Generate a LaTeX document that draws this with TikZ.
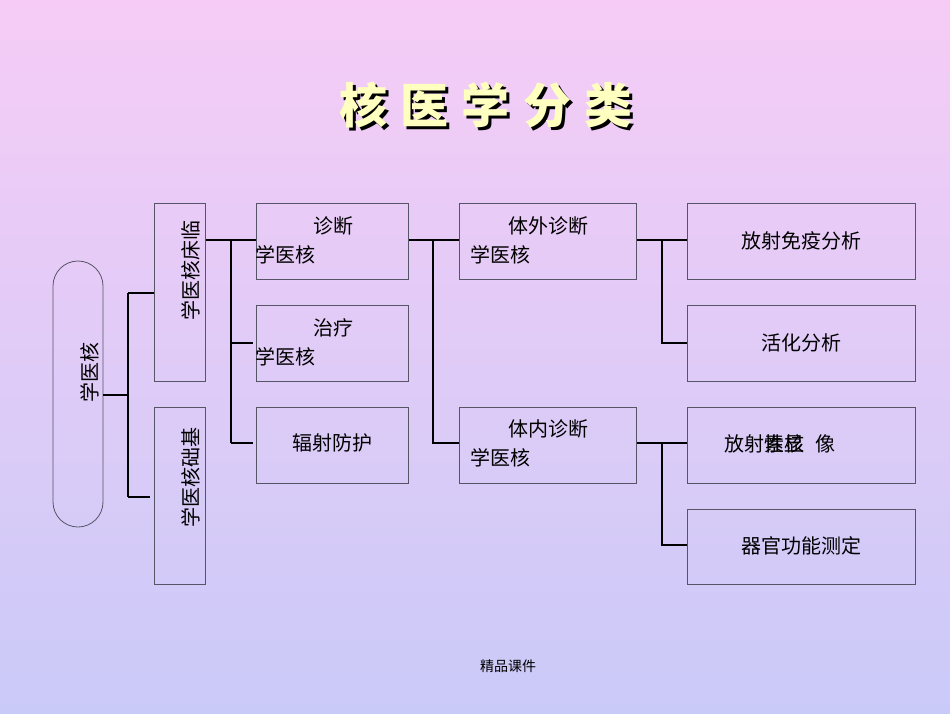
\documentclass[tikz,border=0pt]{standalone}
\usepackage{fontspec}
\setmainfont{Noto Sans CJK SC}
\newfontfamily\cjk{Noto Sans CJK SC}
\definecolor{bgtop}{HTML}{F6CCF6}
\definecolor{bgbot}{HTML}{CACAF8}
\definecolor{ttl}{HTML}{FFFFC0}
\definecolor{edge}{HTML}{555566}
\begin{document}
\begin{tikzpicture}[x=1pt,y=-1pt,
  bx/.style={draw=edge,line width=0.8pt,inner sep=0,anchor=north west},
  lbl/.style={font=\fontsize{20}{20}\selectfont,inner sep=0},
  conn/.style={line width=1.8pt,black}]
\shade[top color=bgtop,bottom color=bgbot] (0,0) rectangle (950,713);
\useasboundingbox (0,0) rectangle (950,713);
% title
\node[lbl,font=\fontsize{48}{48}\selectfont\bfseries,black] at (489,108) {核\;医\;学\;分\;类};
\node[lbl,font=\fontsize{48}{48}\selectfont\bfseries,ttl] (title) at (486,105) {核\;医\;学\;分\;类};
% boxes
\node[draw=edge,line width=0.8pt,rounded corners=25pt,minimum width=50pt,minimum height=266pt,inner sep=0] (root) at (78,394) {};
\node[lbl,rotate=90] at (90,372) {学医核};
\node[bx,minimum width=51pt,minimum height=178pt] (lc) at (154,203) {};
\node[lbl,rotate=90,anchor=south] at (200,270) {学医核床临};
\node[bx,minimum width=51pt,minimum height=177pt] (jc) at (154,407) {};
\node[lbl,rotate=90,anchor=south] at (200,477) {学医核础基};
\node[bx,minimum width=152pt,minimum height=76pt] (zd) at (256,203) {};
\node[lbl] at (333,226) {诊断};
\node[lbl] at (285,255) {学医核};
\node[bx,minimum width=152pt,minimum height=76pt] (zl) at (256,305) {};
\node[lbl] at (333,328) {治疗};
\node[lbl] at (285,357) {学医核};
\node[bx,minimum width=152pt,minimum height=76pt] (fs) at (256,407) {};
\node[lbl] at (332,443) {辐射防护};
\node[bx,minimum width=177pt,minimum height=76pt] (tw) at (459,203) {};
\node[lbl] at (548,226) {体外诊断};
\node[lbl] at (500,255) {学医核};
\node[bx,minimum width=177pt,minimum height=76pt] (tn) at (459,407) {};
\node[lbl] at (548,429) {体内诊断};
\node[lbl] at (500,458) {学医核};
\node[bx,minimum width=228pt,minimum height=76pt] (r1) at (687,203) {};
\node[lbl] at (801,241) {放射免疫分析};
\node[bx,minimum width=228pt,minimum height=76pt] (r2) at (687,305) {};
\node[lbl] at (801,343) {活化分析};
\node[bx,minimum width=228pt,minimum height=76pt] (r3) at (687,407) {};
\node[lbl] at (744,444) {放射};
\node[lbl] at (784,444) {性核};
\node[lbl] at (784,444) {素显};
\node[lbl] at (825,444) {像};
\node[bx,minimum width=228pt,minimum height=75pt] (r4) at (687,509) {};
\node[lbl] at (801,546) {器官功能测定};
\node[lbl,font=\fontsize{14}{14}\selectfont] (ft) at (508,666) {精品课件};
% connectors
\coordinate (a1) at (128,395);
\draw[conn] (root.east |- a1) -- (a1) (128,293) -- (128,497);
\draw[conn] (128,293) -- (lc.west |- 0,293);
\draw[conn] (128,497) -- (150,497);
\draw[conn] (lc.east |- 0,240) -- (zd.west |- 0,240);
\draw[conn] (231,240) -- (231,443);
\draw[conn] (231,343) -- (253,343);
\draw[conn] (231,443) -- (253,443);
\draw[conn] (zd.east |- 0,240) -- (tw.west |- 0,240);
\draw[conn] (433,240) -- (433,443) -- (tn.west |- 0,443);
\draw[conn] (tw.east |- 0,240) -- (r1.west |- 0,240);
\draw[conn] (662,240) -- (662,343) -- (r2.west |- 0,343);
\draw[conn] (tn.east |- 0,443) -- (r3.west |- 0,443);
\draw[conn] (662,443) -- (662,545) -- (r4.west |- 0,545);
\end{tikzpicture}
\end{document}
